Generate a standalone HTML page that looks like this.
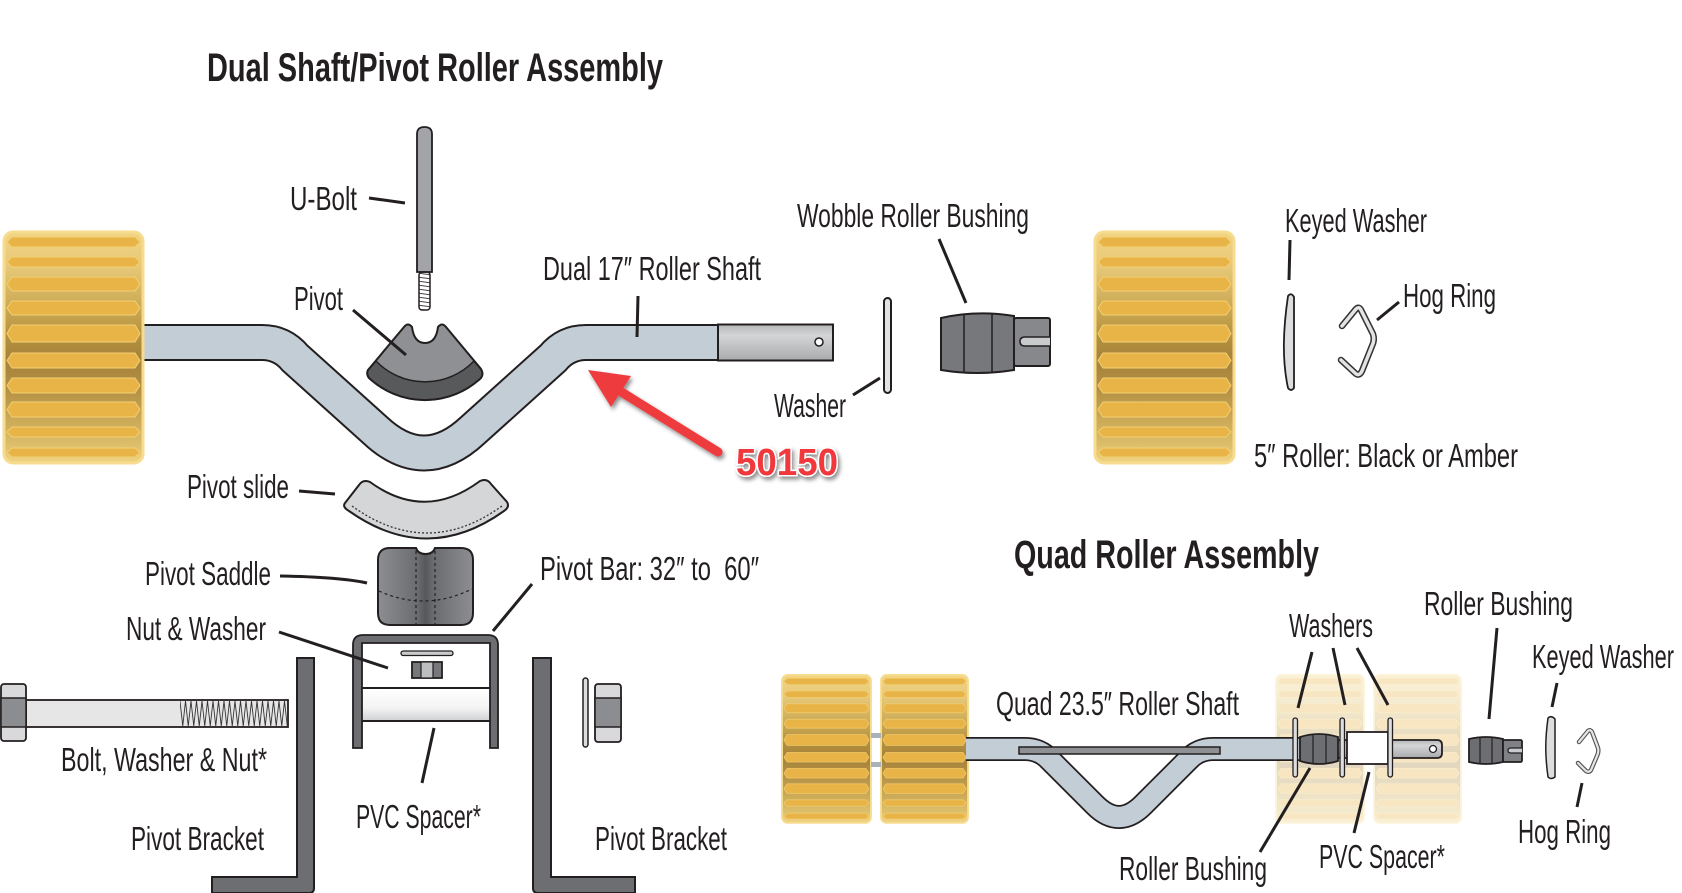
<!DOCTYPE html>
<html><head><meta charset="utf-8"><style>
html,body{margin:0;padding:0;background:#fff;}
svg{display:block;}
.lb{font-family:"Liberation Sans Narrow","Liberation Sans",sans-serif;font-size:33px;fill:#231f20;}
.tt{font-family:"Liberation Sans Narrow","Liberation Sans",sans-serif;font-size:40px;font-weight:bold;fill:#231f20;}
.ld{stroke:#231f20;stroke-width:3;fill:none;}
</style></head><body>
<svg width="1682" height="893" viewBox="0 0 1682 893" xmlns="http://www.w3.org/2000/svg">
<defs>
<linearGradient id="rollbg" x1="0" y1="0" x2="0" y2="1">
<stop offset="0" stop-color="#f2d584"/><stop offset="0.15" stop-color="#e6c878"/><stop offset="0.3" stop-color="#cfae5a"/><stop offset="0.45" stop-color="#b5923f"/><stop offset="0.55" stop-color="#a5823a"/><stop offset="0.68" stop-color="#b39044"/><stop offset="0.8" stop-color="#c9a754"/><stop offset="0.92" stop-color="#dcbe6a"/><stop offset="1" stop-color="#f0d484"/>
</linearGradient>
<linearGradient id="metal" x1="0" y1="0" x2="0" y2="1">
<stop offset="0" stop-color="#b4b5b7"/><stop offset="0.3" stop-color="#d4d5d7"/><stop offset="1" stop-color="#a9aaac"/>
</linearGradient>
<linearGradient id="sad" x1="0" y1="0" x2="1" y2="0">
<stop offset="0" stop-color="#8d8e91"/><stop offset="0.42" stop-color="#6a6b6e"/><stop offset="0.5" stop-color="#57585b"/><stop offset="0.58" stop-color="#6a6b6e"/><stop offset="1" stop-color="#8d8e91"/>
</linearGradient>
<linearGradient id="pvc" x1="0" y1="0" x2="0" y2="1">
<stop offset="0" stop-color="#ffffff"/><stop offset="0.6" stop-color="#f4f4f4"/><stop offset="1" stop-color="#cfd0d2"/>
</linearGradient>
<pattern id="thr" patternUnits="userSpaceOnUse" x="180" y="700" width="5.5" height="27">
<path d="M0,1 L2.75,26 L5.5,1" stroke="#333" stroke-width="0.9" fill="none"/>
</pattern>
<pattern id="uthr" patternUnits="userSpaceOnUse" x="417" y="272" width="15" height="4">
<path d="M0,1 L15,3" stroke="#444" stroke-width="1" fill="none"/>
</pattern>
<filter id="sh" x="-20%" y="-20%" width="140%" height="160%">
<feDropShadow dx="2" dy="3" stdDeviation="2" flood-color="#000" flood-opacity="0.45"/>
</filter>
<g id="roller">
<rect x="0" y="0" width="139" height="231" rx="9" fill="url(#rollbg)" stroke="#f7dc8f" stroke-width="3"/>
<g fill="#e8b447" stroke="#f4cf72" stroke-width="1">
<polygon points="3,10 8,5 131,5 136,10 131,15 8,15"/>
<polygon points="3,30 8,25 131,25 136,30 131,35 8,35"/>
<polygon points="3,52 8,45 131,45 136,52 131,59 8,59"/>
<polygon points="3,76 8,69 131,69 136,76 131,83 8,83"/>
<polygon points="3,101.5 8,93 131,93 136,101.5 131,110 8,110"/>
<polygon points="3,128.5 8,121 131,121 136,128.5 131,136 8,136"/>
<polygon points="3,153.5 8,146 131,146 136,153.5 131,161 8,161"/>
<polygon points="3,177.5 8,170 131,170 136,177.5 131,185 8,185"/>
<polygon points="3,200 8,195 131,195 136,200 131,205 8,205"/>
<polygon points="3,220.5 8,216 131,216 136,220.5 131,225 8,225"/>
</g>
</g>
</defs>

<!-- Titles -->
<text class="tt" x="207" y="81" textLength="456" lengthAdjust="spacingAndGlyphs">Dual Shaft/Pivot Roller Assembly</text>
<text class="tt" x="1014" y="568" textLength="305" lengthAdjust="spacingAndGlyphs">Quad Roller Assembly</text>

<!-- Dual shaft -->
<path d="M140,342.5 H262 Q282,342.5 295,358 L375,430 Q424,476 473,430 L553,358 Q566,342.5 586,342.5 H720" stroke="#231f20" stroke-width="37" fill="none" stroke-linejoin="round"/>
<path d="M140,342.5 H262 Q282,342.5 295,358 L375,430 Q424,476 473,430 L553,358 Q566,342.5 586,342.5 H720" stroke="#c3cdd5" stroke-width="33" fill="none" stroke-linejoin="round"/>
<rect x="718" y="324.5" width="115" height="36" fill="url(#metal)" stroke="#231f20" stroke-width="2"/>
<circle cx="819" cy="342" r="4" fill="#fff" stroke="#231f20" stroke-width="1.5"/>

<!-- top-left roller -->
<use href="#roller" transform="translate(4,232)"/>

<!-- U-bolt -->
<path d="M417,272 V134 Q417,127 424.5,127 Q432,127 432,134 V272 Z" fill="#a3a4a7" stroke="#231f20" stroke-width="1.8"/>
<rect x="419" y="272" width="11" height="38" rx="3" fill="url(#uthr)" stroke="#231f20" stroke-width="1.5"/>

<!-- Pivot -->
<path d="M368,370 L404,327 Q408,322 412,327 Q414,343 425,343 Q436,343 438,327 Q442,322 446,327 L481,369 Q484,374 481,378 A82,82 0 0 1 369,378 Q366,374 368,370 Z" fill="#8f9093"/>
<path d="M376,361 A68,68 0 0 0 474,361 L481,369 Q484,374 481,378 A82,82 0 0 1 369,378 Q366,374 368,370 Z" fill="#58595b" stroke="#231f20" stroke-width="1.5"/>
<path d="M368,370 L404,327 Q408,322 412,327 Q414,343 425,343 Q436,343 438,327 Q442,322 446,327 L481,369 Q484,374 481,378 A82,82 0 0 1 369,378 Q366,374 368,370 Z" fill="none" stroke="#231f20" stroke-width="2"/>

<!-- Red arrow -->
<g filter="url(#sh)">
<line x1="718" y1="452" x2="615" y2="388" stroke="#ee3a3c" stroke-width="9" stroke-linecap="round"/>
<polygon points="588,370 631,376 611,407" fill="#ee3a3c"/>
</g>
<text x="736" y="475" textLength="102" lengthAdjust="spacingAndGlyphs" style="font-family:'Liberation Sans',sans-serif;font-weight:bold;font-size:38px;paint-order:stroke;" fill="#f0393c" stroke="#fff" stroke-width="3" filter="url(#sh)">50150</text>

<!-- Washer top -->
<rect x="884" y="298" width="7" height="95" rx="3.5" fill="#e2e3e4" stroke="#231f20" stroke-width="2"/>

<!-- Wobble bushing -->
<path d="M941,318 Q977,310 1014,316 V370 Q977,376 941,370 Z" fill="#77787b" stroke="#231f20" stroke-width="2"/>
<line x1="964" y1="314" x2="964" y2="372" stroke="#231f20" stroke-width="1.5"/>
<line x1="992" y1="313" x2="992" y2="373" stroke="#231f20" stroke-width="1.5"/>
<rect x="1014" y="318" width="36" height="48" rx="2" fill="#87888b" stroke="#231f20" stroke-width="2"/>
<path d="M1050,337 H1025 Q1020,337 1020,341.5 Q1020,346 1025,346 H1050" fill="#c9cacc" stroke="#231f20" stroke-width="1.5"/>

<!-- top-right roller -->
<use href="#roller" transform="translate(1095,232)"/>

<!-- Keyed washer top -->
<path d="M1288,296 C1283,330 1282,360 1288,388 Q1291,392 1294,388 L1294,297 Q1291,292 1288,296 Z" fill="#dcdddf" stroke="#231f20" stroke-width="1.8"/>
<!-- Hog ring top -->
<path d="M1342,326 L1356,309 Q1359,306 1361,310 L1373,334 Q1375,340 1372,346 L1362,371 Q1359,377 1355,373 L1341,360" fill="none" stroke="#333" stroke-width="6.5" stroke-linecap="round" stroke-linejoin="round"/>
<path d="M1342,326 L1356,309 Q1359,306 1361,310 L1373,334 Q1375,340 1372,346 L1362,371 Q1359,377 1355,373 L1341,360" fill="none" stroke="#e4e4e5" stroke-width="3.5" stroke-linecap="round" stroke-linejoin="round"/>

<!-- Pivot slide -->
<path d="M345,503 L359,485 Q363,479 370,482 Q425,522 480,481 Q487,478 491,484 L507,502 Q510,507 504,511 Q427,566 349,511 Q342,507 345,503 Z" fill="#d5d6d8" stroke="#231f20" stroke-width="2"/>
<path d="M352,506 Q427,560 502,506" fill="none" stroke="#333" stroke-width="1.3" stroke-dasharray="2,2"/>

<!-- Pivot saddle -->
<path d="M390,548 H416 Q418,554 425.5,554 Q433,554 435,548 H461 Q473,548 473,560 V613 Q473,625 461,625 H390 Q378,625 378,613 V560 Q378,548 390,548 Z" fill="url(#sad)" stroke="#231f20" stroke-width="2"/>
<line x1="416" y1="551" x2="416" y2="624" stroke="#222" stroke-width="1.2" stroke-dasharray="3,3"/>
<line x1="435" y1="551" x2="435" y2="624" stroke="#222" stroke-width="1.2" stroke-dasharray="3,3"/>
<path d="M379,591 Q425,612 472,589" fill="none" stroke="#222" stroke-width="1.2" stroke-dasharray="3,3"/>

<!-- Pivot bar U -->
<rect x="362" y="688" width="128" height="33" fill="url(#pvc)"/>
<line x1="362" y1="688" x2="490" y2="688" stroke="#231f20" stroke-width="2"/>
<line x1="362" y1="721" x2="490" y2="721" stroke="#231f20" stroke-width="2"/>
<path d="M353,748 V645 Q353,635 363,635 H488 Q498,635 498,645 V748 H490 V643 H362 V748 Z" fill="#6d6e71" stroke="#231f20" stroke-width="1.8"/>
<rect x="401" y="651" width="52" height="4.5" rx="2.2" fill="#c9cacc" stroke="#231f20" stroke-width="1.3"/>
<rect x="412" y="662" width="30" height="16" fill="#77787b" stroke="#231f20" stroke-width="1.8"/>
<rect x="421" y="662" width="12" height="16" fill="#bdbec0" stroke="#231f20" stroke-width="1.2"/>

<!-- Pivot brackets -->
<path d="M297,658 H314 V888 Q314,893 309,893 H212 V877 H297 Z" fill="#6d6e71" stroke="#231f20" stroke-width="2"/>
<path d="M533,658 H551 V877 H635 V893 H538 Q533,893 533,888 Z" fill="#6d6e71" stroke="#231f20" stroke-width="2"/>

<!-- Bolt -->
<rect x="26" y="700" width="262" height="27" fill="#e6e6e7" stroke="#231f20" stroke-width="1.8"/>
<rect x="180" y="701" width="108" height="25" fill="url(#thr)"/>
<rect x="1" y="684" width="25" height="57" rx="3" fill="#d9d9db" stroke="#231f20" stroke-width="1.8"/>
<rect x="1" y="698" width="25" height="29" fill="#8c8d90" stroke="#231f20" stroke-width="1.5"/>

<!-- Right washer & nut -->
<rect x="583" y="678" width="5" height="69" rx="2.5" fill="#dcdddf" stroke="#231f20" stroke-width="1.5"/>
<rect x="595" y="684" width="26" height="58" rx="3" fill="#d9d9db" stroke="#231f20" stroke-width="1.8"/>
<rect x="595" y="698" width="26" height="29" fill="#8c8d90" stroke="#231f20" stroke-width="1.5"/>

<!-- Quad rollers -->
<use href="#roller" transform="translate(782,675) scale(0.64,0.64)"/>
<use href="#roller" transform="translate(881,675) scale(0.626,0.64)"/>
<g opacity="0.33">
<use href="#roller" transform="translate(1276,675) scale(0.633,0.64)"/>
<use href="#roller" transform="translate(1374,675) scale(0.626,0.64)"/>
</g>
<rect x="871" y="733" width="10" height="5" fill="#a9b2b8"/>
<rect x="871" y="762" width="10" height="5" fill="#a9b2b8"/>

<!-- Quad shaft -->
<path d="M1290,740 H1437 Q1442,740 1442,745 V753 Q1442,758 1437,758 H1290 Z" fill="url(#metal)" stroke="#231f20" stroke-width="1.8"/>
<circle cx="1433" cy="749" r="3.5" fill="#fff" stroke="#231f20" stroke-width="1.3"/>
<path d="M966,749 H1025 Q1040,749 1050,760 L1095,805 Q1119,829 1143,805 L1188,760 Q1198,749 1213,749 H1300" stroke="#231f20" stroke-width="24" fill="none" stroke-linejoin="round"/>
<path d="M966,749 H1025 Q1040,749 1050,760 L1095,805 Q1119,829 1143,805 L1188,760 Q1198,749 1213,749 H1301" stroke="#c3cdd5" stroke-width="20.5" fill="none" stroke-linejoin="round"/>
<rect x="1019" y="747" width="201" height="7" fill="#8e9093" stroke="#231f20" stroke-width="1.5"/>

<!-- Quad washers/bushing/spacer -->
<path d="M1300,737 Q1319,731 1338,737 V761 Q1319,767 1300,761 Z" fill="#6d6e71" stroke="#231f20" stroke-width="1.8"/>
<line x1="1313" y1="734" x2="1313" y2="764" stroke="#231f20" stroke-width="1.2"/>
<line x1="1326" y1="734" x2="1326" y2="764" stroke="#231f20" stroke-width="1.2"/>
<rect x="1347" y="732" width="41" height="32" fill="#fff" stroke="#231f20" stroke-width="1.8"/>
<rect x="1293" y="718" width="4.5" height="59" rx="2.2" fill="#dcdddf" stroke="#231f20" stroke-width="1.3"/>
<rect x="1340" y="718" width="4.5" height="59" rx="2.2" fill="#dcdddf" stroke="#231f20" stroke-width="1.3"/>
<rect x="1388" y="718" width="4.5" height="59" rx="2.2" fill="#dcdddf" stroke="#231f20" stroke-width="1.3"/>

<!-- Right roller bushing -->
<path d="M1469,739 Q1486,735 1503,739 V762 Q1486,766 1469,762 Z" fill="#6d6e71" stroke="#231f20" stroke-width="1.8"/>
<line x1="1480" y1="737" x2="1480" y2="764" stroke="#231f20" stroke-width="1.2"/>
<line x1="1492" y1="737" x2="1492" y2="764" stroke="#231f20" stroke-width="1.2"/>
<rect x="1503" y="740" width="19" height="22" rx="1.5" fill="#808184" stroke="#231f20" stroke-width="1.8"/>
<path d="M1522,748 H1511 Q1508,748 1508,750.5 Q1508,753 1511,753 H1522" fill="#c9cacc" stroke="#231f20" stroke-width="1.2"/>

<!-- Keyed washer right -->
<path d="M1548,718 C1545,740 1545,755 1548,777 Q1551,780 1555,777 L1555,719 Q1551,715 1548,718 Z" fill="#dcdddf" stroke="#231f20" stroke-width="1.5"/>
<!-- Hog ring right -->
<path d="M1579,742 L1588,731 Q1590,729 1592,732 L1598,748 Q1599,752 1597,756 L1591,770 Q1589,773 1586,771 L1578,763" fill="none" stroke="#555" stroke-width="4.5" stroke-linecap="round" stroke-linejoin="round"/>
<path d="M1579,742 L1588,731 Q1590,729 1592,732 L1598,748 Q1599,752 1597,756 L1591,770 Q1589,773 1586,771 L1578,763" fill="none" stroke="#e6e6e7" stroke-width="2.2" stroke-linecap="round" stroke-linejoin="round"/>

<!-- Leader lines -->
<line class="ld" x1="369" y1="198" x2="405" y2="203"/>
<line class="ld" x1="353" y1="310" x2="406" y2="355"/>
<line class="ld" x1="638" y1="296" x2="637" y2="337"/>
<line class="ld" x1="939" y1="239" x2="966" y2="303"/>
<line class="ld" x1="853" y1="395" x2="880" y2="378"/>
<line class="ld" x1="1290" y1="240" x2="1289" y2="280"/>
<line class="ld" x1="1377" y1="320" x2="1399" y2="302"/>
<line class="ld" x1="299" y1="491" x2="335" y2="494"/>
<path class="ld" d="M280,576 Q340,577 367,583"/>
<line class="ld" x1="279" y1="632" x2="388" y2="668"/>
<line class="ld" x1="532" y1="584" x2="493" y2="631"/>
<line class="ld" x1="434" y1="728" x2="422" y2="783"/>
<line class="ld" x1="1312" y1="652" x2="1298" y2="708"/>
<line class="ld" x1="1333" y1="648" x2="1345" y2="705"/>
<line class="ld" x1="1357" y1="648" x2="1388" y2="705"/>
<line class="ld" x1="1497" y1="628" x2="1489" y2="719"/>
<line class="ld" x1="1557" y1="683" x2="1552" y2="707"/>
<line class="ld" x1="1582" y1="783" x2="1577" y2="807"/>
<line class="ld" x1="1260" y1="852" x2="1310" y2="768"/>
<line class="ld" x1="1354" y1="833" x2="1369" y2="772"/>

<!-- Labels -->
<text class="lb" x="290" y="210" textLength="67" lengthAdjust="spacingAndGlyphs">U-Bolt</text>
<text class="lb" x="294" y="310" textLength="49" lengthAdjust="spacingAndGlyphs">Pivot</text>
<text class="lb" x="543" y="280" textLength="218" lengthAdjust="spacingAndGlyphs">Dual 17″ Roller Shaft</text>
<text class="lb" x="797" y="227" textLength="232" lengthAdjust="spacingAndGlyphs">Wobble Roller Bushing</text>
<text class="lb" x="774" y="417" textLength="72" lengthAdjust="spacingAndGlyphs">Washer</text>
<text class="lb" x="1285" y="232" textLength="142" lengthAdjust="spacingAndGlyphs">Keyed Washer</text>
<text class="lb" x="1403" y="307" textLength="93" lengthAdjust="spacingAndGlyphs">Hog Ring</text>
<text class="lb" x="1254" y="467" textLength="264" lengthAdjust="spacingAndGlyphs">5″ Roller: Black or Amber</text>
<text class="lb" x="187" y="498" textLength="102" lengthAdjust="spacingAndGlyphs">Pivot slide</text>
<text class="lb" x="145" y="585" textLength="126" lengthAdjust="spacingAndGlyphs">Pivot Saddle</text>
<text class="lb" x="126" y="640" textLength="140" lengthAdjust="spacingAndGlyphs">Nut &amp; Washer</text>
<text class="lb" x="540" y="580" textLength="219" lengthAdjust="spacingAndGlyphs" xml:space="preserve">Pivot Bar: 32″ to  60″</text>
<text class="lb" x="61" y="771" textLength="206" lengthAdjust="spacingAndGlyphs">Bolt, Washer &amp; Nut*</text>
<text class="lb" x="356" y="828" textLength="125" lengthAdjust="spacingAndGlyphs">PVC Spacer*</text>
<text class="lb" x="131" y="850" textLength="133" lengthAdjust="spacingAndGlyphs">Pivot Bracket</text>
<text class="lb" x="595" y="850" textLength="132" lengthAdjust="spacingAndGlyphs">Pivot Bracket</text>
<text class="lb" x="996" y="715" textLength="243" lengthAdjust="spacingAndGlyphs">Quad 23.5″ Roller Shaft</text>
<text class="lb" x="1289" y="637" textLength="84" lengthAdjust="spacingAndGlyphs">Washers</text>
<text class="lb" x="1424" y="615" textLength="149" lengthAdjust="spacingAndGlyphs">Roller Bushing</text>
<text class="lb" x="1532" y="668" textLength="142" lengthAdjust="spacingAndGlyphs">Keyed Washer</text>
<text class="lb" x="1518" y="843" textLength="93" lengthAdjust="spacingAndGlyphs">Hog Ring</text>
<text class="lb" x="1119" y="880" textLength="148" lengthAdjust="spacingAndGlyphs">Roller Bushing</text>
<text class="lb" x="1319" y="868" textLength="126" lengthAdjust="spacingAndGlyphs">PVC Spacer*</text>
</svg>
</body></html>
